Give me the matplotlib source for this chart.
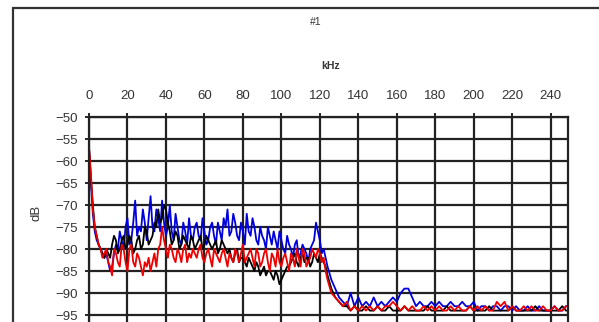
import matplotlib
matplotlib.use("Agg")
import matplotlib.pyplot as plt
from matplotlib.patches import Rectangle

plt.rcParams['font.family'] = ['Liberation Sans', 'DejaVu Sans']

# frequency axis, kHz (1 kHz steps below 124 kHz, 2 kHz above)
freq = list(range(0, 124)) + list(range(124, 250, 2))

blue_low = [-57, -65, -72, -76, -78, -79, -80, -81, -82, -81,
            -83, -85, -84, -81, -79, -80, -76, -78, -80, -75,
            -73, -79, -78, -74, -69, -77, -75, -76, -71, -74,
            -78, -73, -68, -75, -76, -71, -73, -76, -69, -74,
            -77, -75, -70, -76, -78, -72, -75, -78, -79, -74,
            -76, -79, -73, -77, -78, -75, -74, -77, -78, -73,
            -76, -79, -78, -75, -74, -77, -79, -74, -76, -78,
            -73, -75, -71, -77, -76, -72, -74, -77, -78, -74,
            -76, -79, -72, -76, -77, -73, -75, -78, -79, -75,
            -77, -78, -80, -75, -77, -79, -76, -78, -80, -76,
            -78, -80, -81, -77, -79, -80, -82, -79, -78, -82,
            -81, -79, -80, -81, -83, -80, -79, -78, -74, -76,
            -78, -81, -80, -82]
blue_tail = [-84, -87, -89, -91, -92, -93, -90, -93,
             -91, -93, -92, -93, -91, -93, -92, -93, -92, -91,
             -92, -90, -89, -89, -91, -93, -92, -93, -93, -92,
             -93, -92, -93, -93, -92, -93, -93, -92, -93, -93,
             -92, -94, -93, -93, -94, -93, -93, -94, -93, -93,
             -94, -93, -94, -94, -93, -94, -94, -93, -94, -94,
             -94, -93, -94, -94, -93]

black_low = [-57, -64, -70, -75, -77, -79, -80, -81, -82, -80,
             -81, -82, -79, -77, -78, -81, -80, -78, -77, -80,
             -79, -77, -78, -81, -80, -78, -77, -80, -79, -75,
             -76, -79, -78, -77, -74, -75, -71, -74, -73, -70,
             -71, -74, -76, -79, -78, -76, -77, -80, -79, -77,
             -78, -79, -80, -77, -78, -80, -79, -78, -77, -80,
             -79, -77, -78, -79, -80, -79, -78, -81, -80, -78,
             -79, -80, -81, -80, -82, -83, -81, -80, -83, -82,
             -82, -83, -84, -82, -83, -84, -85, -83, -84, -86,
             -85, -84, -86, -85, -85, -86, -87, -85, -86, -88,
             -87, -86, -85, -84, -84, -83, -82, -81, -83, -84,
             -82, -81, -83, -82, -82, -84, -83, -81, -82, -83,
             -81, -82, -83, -84]
black_tail = [-86, -89, -91, -92, -93, -93, -94, -93,
              -94, -94, -93, -94, -94, -93, -94, -94, -93, -94,
              -94, -94, -93, -94, -94, -94, -94, -94, -93, -94,
              -94, -94, -94, -93, -94, -94, -94, -94, -94, -93,
              -94, -94, -94, -94, -93, -94, -94, -94, -94, -94,
              -93, -94, -94, -94, -94, -94, -93, -94, -94, -94,
              -94, -94, -94, -93, -94]

red_low = [-57, -63, -71, -75, -77, -79, -80, -82, -81, -80,
           -83, -84, -86, -80, -81, -83, -84, -79, -80, -83,
           -85, -80, -79, -83, -84, -81, -82, -84, -86, -83,
           -84, -82, -85, -83, -81, -84, -80, -79, -75, -78,
           -80, -82, -79, -80, -82, -83, -80, -81, -83, -80,
           -79, -83, -81, -82, -80, -81, -82, -80, -79, -82,
           -83, -81, -80, -82, -84, -80, -81, -82, -83, -81,
           -80, -82, -84, -81, -82, -83, -80, -81, -83, -81,
           -79, -83, -82, -81, -80, -82, -84, -80, -81, -84,
           -83, -81, -80, -83, -85, -81, -82, -84, -80, -83,
           -84, -82, -81, -83, -85, -81, -82, -84, -80, -82,
           -84, -80, -81, -84, -83, -82, -80, -81, -82, -80,
           -81, -83, -82, -85]
red_tail = [-87, -90, -91, -92, -93, -92, -94, -93,
            -94, -93, -94, -93, -94, -93, -94, -93, -93, -92,
            -93, -94, -93, -94, -93, -94, -94, -93, -94, -93,
            -94, -93, -94, -94, -93, -94, -93, -94, -94, -93,
            -94, -93, -94, -93, -94, -94, -92, -93, -92, -94,
            -93, -94, -94, -93, -94, -93, -94, -94, -93, -94,
            -94, -93, -94, -94, -93]

blue = blue_low + blue_tail
black = black_low + black_tail
red = red_low + red_tail

xticks = list(range(0, 241, 20))
yticks = list(range(-95, -49, 5))

fig = plt.figure(figsize=(5.99, 3.22), dpi=100)

# outer chart border
fig.patches.append(Rectangle((13 / 599, -0.1), 1.2, 1.1 - 8 / 322,
                             transform=fig.transFigure, fill=False,
                             edgecolor='#333333', linewidth=1.6))

ax = fig.add_axes([89 / 599, -15 / 322, 479 / 599, 220 / 322])

ax.plot(freq, blue, color='#0000dd', lw=1.3)
ax.plot(freq, black, color='black', lw=1.3)
ax.plot(freq, red, color='#ee0000', lw=1.3)

ax.set_xlim(0, 249)
ax.set_ylim(-100, -50)
ax.set_xticks(xticks)
ax.set_yticks(yticks)
ax.xaxis.tick_top()
ax.tick_params(axis='x', direction='out', length=3, width=1.2, pad=8,
               labelsize=9.5, labelcolor='#333333')
ax.tick_params(axis='y', direction='out', length=3, width=1.2, pad=5,
               labelsize=9.5, labelcolor='#333333')
ax.grid(True, color='#222222', lw=1.6)
ax.set_axisbelow(True)
for s in ax.spines.values():
    s.set_color('#222222')
    s.set_linewidth(1.6)

fig.text(316 / 599, 1 - 22 / 322, '#1', ha='center', va='center',
         fontsize=7.5, color='#333333')
fig.text(331 / 599, 1 - 66 / 322, 'kHz', ha='center', va='center',
         fontsize=7.5, fontweight='bold', color='#333333')
fig.text(36 / 599, 1 - 213 / 322, 'dB', ha='center', va='center',
         rotation=90, fontsize=9.5, color='#333333')

fig.savefig('out.png', dpi=100)
